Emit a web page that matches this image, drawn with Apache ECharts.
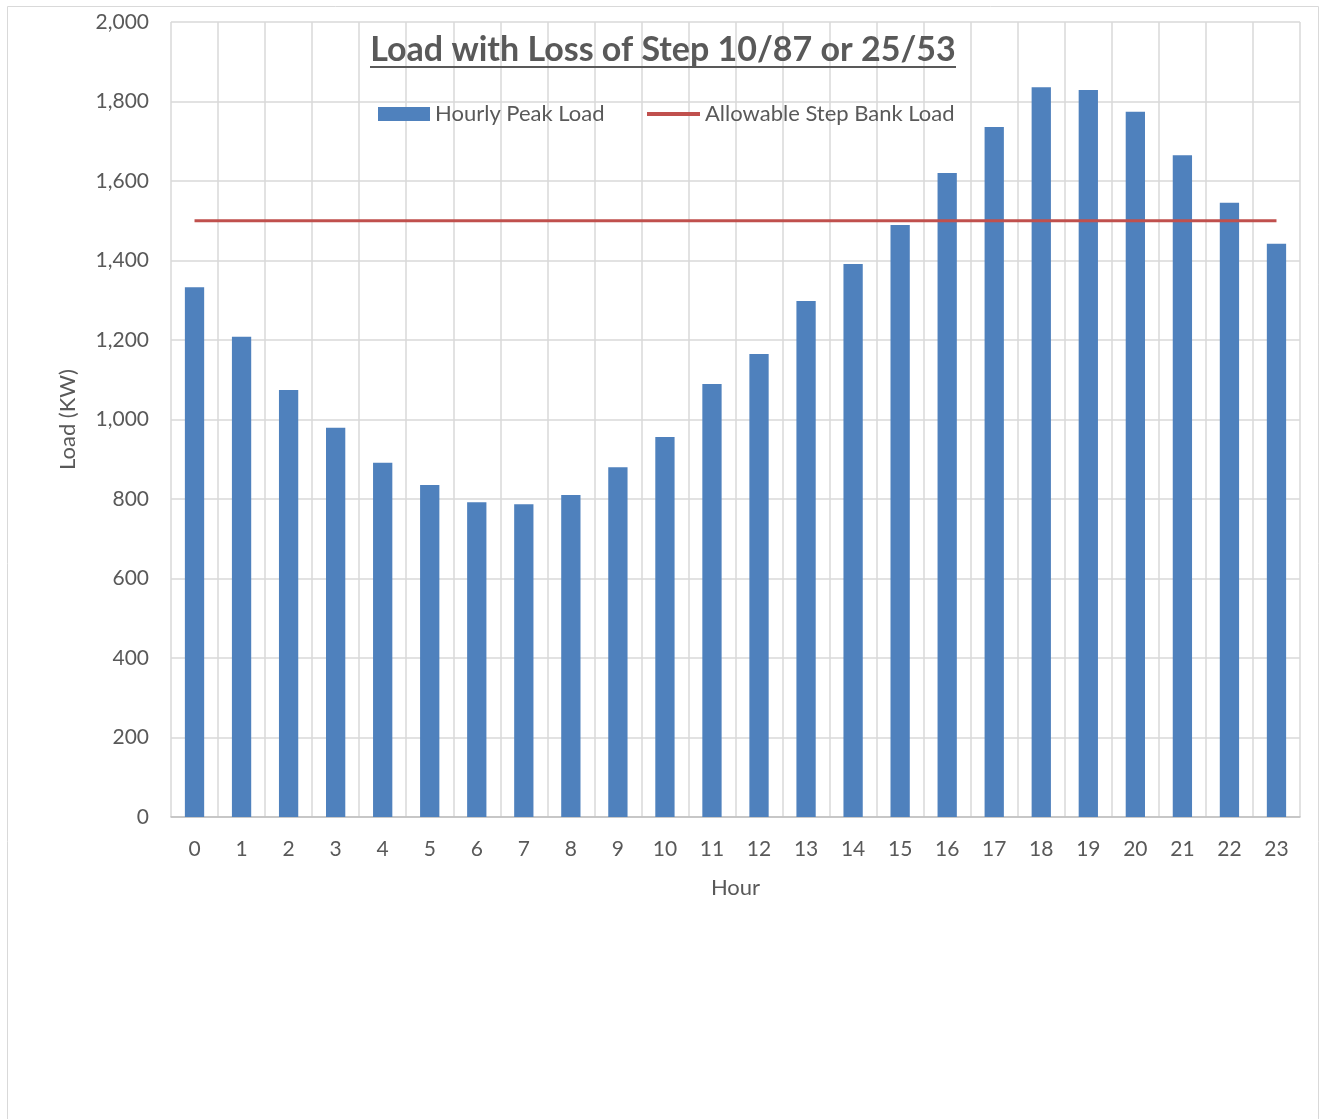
<!DOCTYPE html>
<html>
<head>
<meta charset="utf-8">
<script src="https://cdn.jsdelivr.net/npm/echarts@6/dist/echarts.min.js"></script>
<style>
  html, body { margin: 0; padding: 0; background: #fff; }
  #chart { width: 1323px; height: 1119px; }
</style>
</head>
<body>
<div id="chart"></div>
<script>
// hours 0..23
var hours = ['0','1','2','3','4','5','6','7','8','9','10','11','12','13','14','15','16','17','18','19','20','21','22','23'];
// hourly peak load (KW)
var peakLoad = [1333, 1208, 1074, 979, 891, 835, 792, 787, 810, 880, 956, 1089,
                1165, 1298, 1391, 1489, 1620, 1736, 1836, 1829, 1774, 1665, 1545, 1442];
// allowable step bank load
var allowable = hours.map(function () { return 1500; });

var font = 'Lato, "Liberation Sans", sans-serif';
var grey = '#595959';

var myChart = echarts.init(document.getElementById('chart'));
myChart.setOption({
    animation: false,
    textStyle: { fontFamily: font },
    graphic: [
        {
            type: 'rect',
            shape: { x: 7.5, y: 6.5, width: 1311, height: 1130 },
            style: { fill: null, stroke: '#d9d9d9', lineWidth: 1 },
            silent: true
        },
        {
            type: 'text',
            x: 663, y: 50,
            style: {
                text: 'Load with Loss of Step 10/87 or 25/53',
                font: 'bold 34px ' + font,
                fill: grey,
                align: 'center',
                verticalAlign: 'middle'
            },
            z: 10
        },
        {
            type: 'line',
            shape: { x1: 370, y1: 67, x2: 956, y2: 67 },
            style: { stroke: grey, lineWidth: 2 },
            z: 10
        }
    ],
    // two legends so the line key can be a thin bar like the original
    legend: [
        {
            top: 98,
            left: 373,
            itemWidth: 52,
            itemHeight: 14,
            itemGap: 0,
            textStyle: { fontSize: 22, color: grey, fontFamily: font },
            data: [{ name: 'Hourly Peak Load', icon: 'rect' }]
        },
        {
            top: 98,
            left: 642,
            itemWidth: 53,
            itemHeight: 4,
            itemGap: 0,
            textStyle: { fontSize: 22, color: grey, fontFamily: font },
            data: [{ name: 'Allowable Step Bank Load', icon: 'rect' }]
        }
    ],
    grid: { left: 171, top: 22, right: 23, bottom: 302 },
    xAxis: {
        type: 'category',
        data: hours,
        name: 'Hour',
        nameLocation: 'middle',
        nameGap: 60,
        nameTextStyle: { fontSize: 22, color: grey },
        axisLine: { lineStyle: { color: '#bfbfbf', width: 1.5 } },
        axisTick: { show: false },
        axisLabel: { fontSize: 21, color: grey, margin: 22 },
        splitLine: { show: true, lineStyle: { color: '#d9d9d9', width: 1.5 } }
    },
    yAxis: {
        type: 'value',
        min: 0,
        max: 2000,
        interval: 200,
        name: 'Load (KW)',
        nameLocation: 'middle',
        nameGap: 92,
        nameTextStyle: { fontSize: 22, color: grey },
        axisLine: { show: false },
        axisTick: { show: false },
        axisLabel: {
            fontSize: 21, color: grey, margin: 22,
            formatter: function (v) { return v.toLocaleString('en-US'); }
        },
        splitLine: { lineStyle: { color: '#d9d9d9', width: 1.5 } }
    },
    series: [
        {
            name: 'Hourly Peak Load',
            type: 'bar',
            data: peakLoad,
            barWidth: '41%',
            itemStyle: { color: '#4F81BD' }
        },
        {
            name: 'Allowable Step Bank Load',
            type: 'line',
            data: allowable,
            showSymbol: false,
            symbol: 'none',
            lineStyle: { color: '#C0504D', width: 3 },
            itemStyle: { color: '#C0504D' }
        }
    ]
});
</script>
</body>
</html>
